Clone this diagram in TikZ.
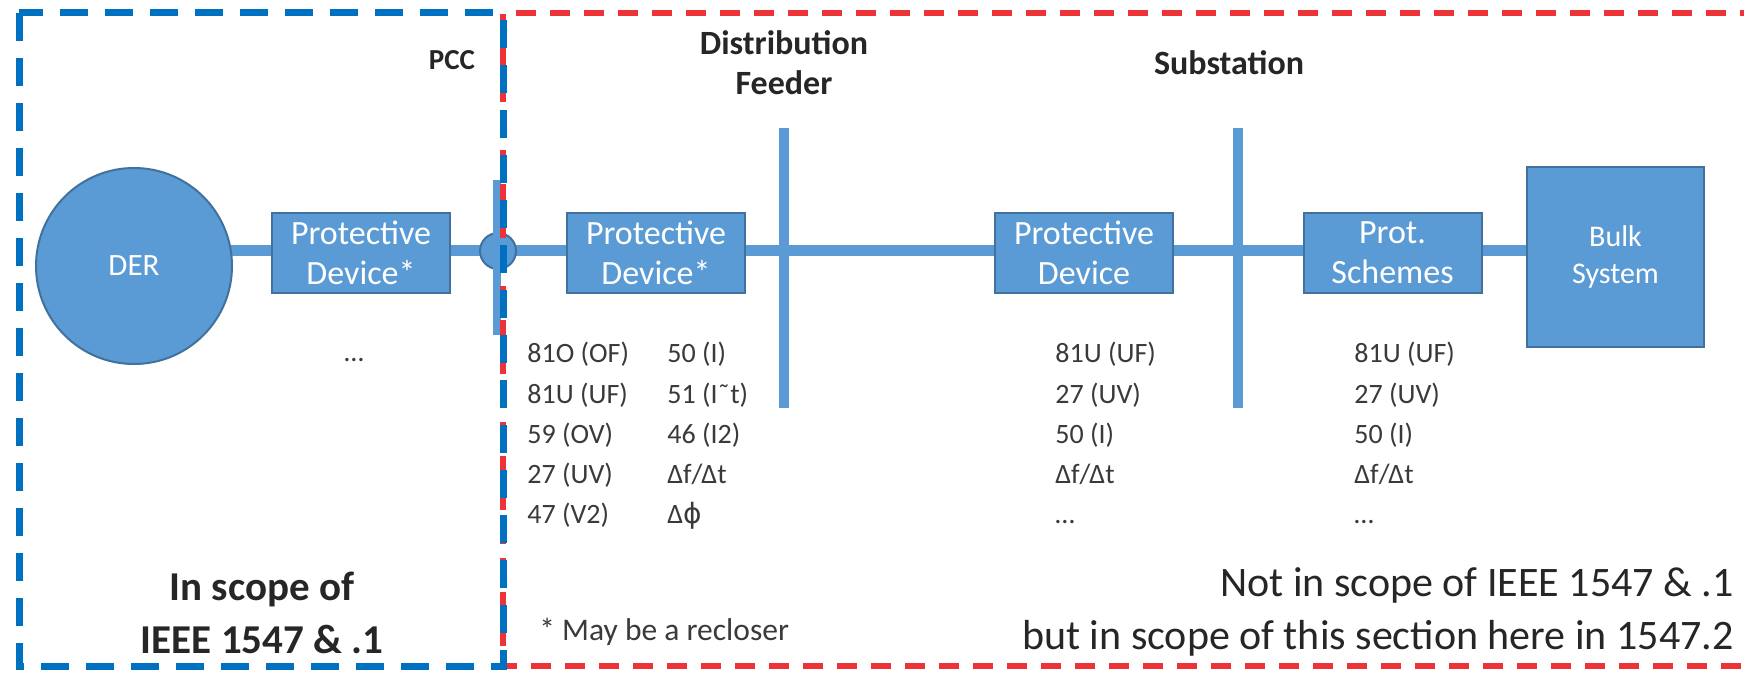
\documentclass[tikz,border=0pt]{standalone}
\usepackage{fontspec}
\setmainfont{Carlito}
\newfontfamily\symbolfont{DejaVu Sans}
\definecolor{boxfill}{HTML}{5B9BD5}
\definecolor{boxline}{HTML}{41719C}
\definecolor{scopeblue}{HTML}{0070C0}
\definecolor{scopered}{HTML}{EE3338}
\definecolor{ink}{HTML}{262626}
\definecolor{labelink}{HTML}{3A3A3A}
\pgfdeclarelayer{background}
\pgfdeclarelayer{foreground}
\pgfsetlayers{background,main,foreground}
\tikzset{
  device/.style={draw=boxline, line width=1pt, fill=boxfill, text=white,
    minimum width=89pt, minimum height=40pt, inner sep=0pt, align=center,
    font=\fontsize{17}{20}\selectfont},
  gen/.style={circle, draw=boxline, line width=1pt, fill=boxfill,
    minimum size=98pt, inner sep=0pt, text=white, font=\fontsize{15.5}{18}\selectfont},
  junction/.style={circle, draw=boxline, line width=1pt, fill=boxfill,
    minimum size=18pt, inner sep=0pt},
  feeder/.style={draw=boxfill, line width=5.5pt},
  busbar/.style={draw=boxfill, line width=5pt},
  heading/.style={font=\bfseries\fontsize{17}{20}\selectfont, text=ink,
    align=center, inner sep=0pt},
  relay/.style={font=\fontsize{14}{17}\selectfont, text=labelink,
    anchor=base west, inner sep=0pt},
  scopetext/.style={font=\fontsize{21}{26.5}\selectfont, text=ink, inner sep=0pt},
  bluescope/.style={draw=scopeblue, line width=3.5pt, dash pattern=on 14pt off 8.5pt},
  redscope/.style={draw=scopered, line width=3pt, dash pattern=on 10pt off 7pt},
}
\begin{document}
\begin{tikzpicture}[x=0.5pt, y=-0.5pt]
\useasboundingbox (0,0) rectangle (1744,673);

% equipment along the feeder
\node[gen] (der) at (134,266) {DER};
\node[device] (pd1) at (361,253) {Protective\\Device*};
\node[junction] (pcc) at (498,251) {};
\node[device] (pd2) at (656,253) {Protective\\Device*};
\node[device] (pd3) at (1084,253) {Protective\\Device};
\node[device] (ps) at (1392.5,253) {Prot.\\Schemes};
\node[device, minimum width=88.5pt, minimum height=90pt,
      font=\fontsize{15}{18.5}\selectfont] (bulk) at (1615.5,257) {Bulk\\System};

% bus bars
\coordinate (pcctop) at (497,180);
\coordinate (pccbot) at (497,335);
\coordinate (fdtop) at (784,128);
\coordinate (fdbot) at (784,408);
\coordinate (sbtop) at (1238,128);
\coordinate (sbbot) at (1238,408);
\coordinate (mainy) at (0,251);
\draw[busbar] (fdtop) -- (fdbot);
\draw[busbar] (sbtop) -- (sbbot);
\draw[busbar, line width=4pt] (pcctop) -- (pccbot);

% white page and feeder line behind the equipment
\begin{pgfonlayer}{background}
\fill[white] (0,0) rectangle (1744,673);
\draw[feeder] (der.center |- mainy) -- (pd1.west |- mainy);
\draw[feeder] (pd1.east |- mainy) -- (pcc.center) -- (pd2.west |- mainy);
\draw[feeder] (pd2.east |- mainy) -- (pd3.west |- mainy);
\draw[feeder] (pd3.east |- mainy) -- (ps.west |- mainy);
\draw[feeder] (ps.east |- mainy) -- (bulk.west |- mainy);
\end{pgfonlayer}

% headings
\node[heading, font=\bfseries\fontsize{14.5}{17}\selectfont] (pcclabel) at (452,60) {PCC};
\node[heading] (feederlabel) at (784,63) {Distribution\\Feeder};
\node[heading] (sublabel) at (1229,63) {Substation};

% protection functions
\node[relay, anchor=base] (dots1) at (354,362) {…};
\foreach \t [count=\i] in {81O (OF), 81U (UF), 59 (OV), 27 (UV), 47 (V2)}
  \node[relay] (pda\i) at (527,{363+40*(\i-1)}) {\t};
\foreach \t [count=\i] in {50 (I), 51 (I˜t), 46 (I2), Δf/Δt, Δ{\symbolfont ϕ}}
  \node[relay] (pdb\i) at (667,{363+40*(\i-1)}) {\t};
\foreach \t [count=\i] in {81U (UF), 27 (UV), 50 (I), Δf/Δt, …}
  \node[relay] (pdc\i) at (1055,{363+40*(\i-1)}) {\t};
\foreach \t [count=\i] in {81U (UF), 27 (UV), 50 (I), Δf/Δt, …}
  \node[relay] (pdd\i) at (1354,{363+40*(\i-1)}) {\t};

% notes
\node[relay, font=\fontsize{15.75}{19}\selectfont] (note) at (539,640) {* May be a recloser};
\node[scopetext, font=\bfseries\fontsize{20.5}{26.5}\selectfont, align=center]
  (inscope) at (262,613) {In scope of\\IEEE 1547 \& .1};
\node[scopetext, align=right, anchor=east] (outscope) at (1734,612)
  {Not in scope of IEEE 1547 \& .1\\but in scope of this section here in 1547.2};

% scope boundaries
\begin{pgfonlayer}{foreground}
\draw[redscope] (1760,13) -- (503,13) -- (503,666) -- (1760,666);
\draw[bluescope] (19,13) rectangle (503,666);
\end{pgfonlayer}
\end{tikzpicture}
\end{document}
